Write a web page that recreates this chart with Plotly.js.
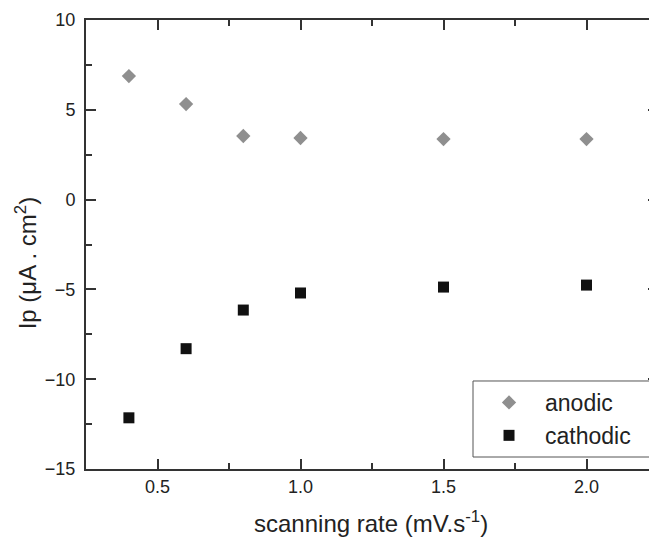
<!DOCTYPE html>
<html>
<head>
<meta charset="utf-8">
<script src="https://cdn.plot.ly/plotly-3.0.1.min.js"></script>
<style>html,body{margin:0;padding:0;overflow:hidden;background:#fff;}
#wrap{width:649px;height:539px;overflow:hidden;position:relative;}</style>
</head>
<body>
<div id="wrap"><div id="chart"></div></div>
<script>
var scanRate = [0.4, 0.6, 0.8, 1.0, 1.5, 2.0];
var anodic = [6.88, 5.32, 3.54, 3.43, 3.37, 3.37];
var cathodic = [-12.15, -8.3, -6.15, -5.2, -4.87, -4.76];
var xTicks = [0.5, 1.0, 1.5, 2.0];
var xTickText = ['0.5', '1.0', '1.5', '2.0'];
var yTicks = [-15, -10, -5, 0, 5, 10];

var font = 'Liberation Sans, Arial, Helvetica, sans-serif';
var traces = [
  {x: scanRate, y: anodic, mode: 'markers', type: 'scatter', name: 'anodic',
   marker: {symbol: 'diamond', size: 11, color: '#8f8f8f'}},
  {x: scanRate, y: cathodic, mode: 'markers', type: 'scatter', name: 'cathodic',
   marker: {symbol: 'square', size: 11, color: '#111111'}}
];
var axisCommon = {
  showline: true, linecolor: '#333', linewidth: 2, mirror: 'ticks',
  ticks: 'inside', ticklen: 10, tickwidth: 2, tickcolor: '#333',
  showgrid: false, zeroline: false,
  tickfont: {family: font, size: 18, color: '#222'},
  minor: {ticks: 'inside', ticklen: 6, tickwidth: 2, tickcolor: '#333', showgrid: false}
};
var layout = {
  width: 680, height: 539,
  margin: {l: 86, r: 22, t: 20, b: 70},
  paper_bgcolor: '#fff', plot_bgcolor: '#fff',
  showlegend: true,
  xaxis: Object.assign({}, axisCommon, {
    range: [0.25, 2.25], tickvals: xTicks, ticktext: xTickText,
    minor: Object.assign({}, axisCommon.minor, {dtick: 0.25, tick0: 0.25})
  }),
  yaxis: Object.assign({}, axisCommon, {
    range: [-15, 10], tickvals: yTicks, ticklabelstandoff: 5,
    minor: Object.assign({}, axisCommon.minor, {dtick: 2.5, tick0: 0})
  }),
  legend: {
    x: 0.6766, y: 0.196, xanchor: 'left', yanchor: 'top',
    bgcolor: 'rgba(0,0,0,0)', borderwidth: 0,
    font: {family: font, size: 23, color: '#222'},
    itemwidth: 62, tracegroupgap: 0
  },
  shapes: [
    {type: 'rect', xref: 'paper', yref: 'paper', x0: 0.6766, x1: 1.2, y0: 0.0267, y1: 0.196,
     fillcolor: '#fff', line: {color: '#555', width: 1}, layer: 'above'}
  ],
  annotations: [
    {text: 'scanning rate (mV.s<sup>-1</sup>)', xref: 'paper', yref: 'paper',
     x: 0.498, y: -0.081, xanchor: 'center', yanchor: 'top', showarrow: false,
     font: {family: font, size: 24, color: '#222'}},
    {text: 'Ip (μA . cm<sup>2</sup>)', xref: 'paper', yref: 'paper',
     x: -0.0, y: 0.458, xanchor: 'center', yanchor: 'middle', xshift: -60, showarrow: false,
     textangle: -90, font: {family: font, size: 24, color: '#222'}}
  ]
};
Plotly.newPlot('chart', traces, layout, {displayModeBar: false, staticPlot: true});
</script>
</body>
</html>
